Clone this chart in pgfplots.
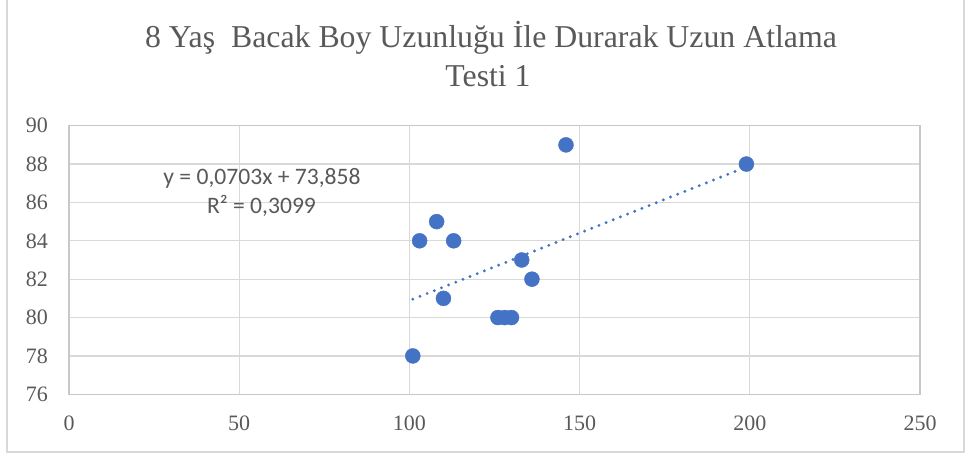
\documentclass[border=0pt]{standalone}
\usepackage{pgfplots}
\pgfplotsset{compat=1.18}
\usepackage{fontspec}
\setmainfont{Liberation Serif}
\newfontfamily\carlito{Carlito}
\definecolor{txt}{HTML}{595959}
\definecolor{gridc}{HTML}{D9D9D9}
\definecolor{axc}{HTML}{C8C8C8}
\definecolor{pt}{HTML}{4472C4}
\begin{document}
\begin{tikzpicture}
\useasboundingbox (0,0) rectangle (968pt,457pt);
\draw[color=gridc, line width=1.3pt] (7pt,457pt) -- (7pt,5pt) -- (964pt,5pt) -- (964pt,457pt);
\begin{axis}[
  at={(69pt,62.7pt)}, anchor=south west,
  width=851pt, height=268.6pt, scale only axis,
  xmin=0, xmax=250, ymin=76, ymax=90,
  xtick={0,50,...,250}, ytick={76,78,...,90},
  grid=major,
  major grid style={color=gridc, line width=1.3pt},
  axis line style={color=axc, line width=1.3pt},
  tick style={draw=none},
  /pgf/number format/assume math mode=true,
  ticklabel style={font=\fontsize{22}{22}\selectfont, text=txt, inner sep=0pt},
  yticklabel style={anchor=east, xshift=-21pt},
  xticklabel style={anchor=north, yshift=-21pt},
  clip=false,
]
\addplot[only marks, mark=*, mark size=7.5pt, mark options={fill=pt, draw=pt}]
coordinates {
(146,89) (108,85) (103,84) (113,84) (133,83) (136,82) (110,81)
(126,80) (128,80) (130,80) (101,78) (199,88)
};
\addplot[color=pt, line width=3.2pt, line cap=round, dash pattern=on 0pt off 7.7pt]
coordinates {(101,80.958) (199,87.848)};
\end{axis}
\node[anchor=base, text=txt, font=\fontsize{31.8}{31.8}\selectfont, inner sep=0pt] at (491pt,409.5pt) {8 Yaş~ Bacak Boy Uzunluğu İle Durarak Uzun Atlama};
\node[anchor=base, text=txt, font=\fontsize{31.8}{31.8}\selectfont, inner sep=0pt] at (488pt,370pt) {Testi 1};
\node[anchor=base, text=txt, font=\carlito\fontsize{23.6}{23.6}\selectfont, inner sep=0pt] at (262pt,272pt) {y = 0,0703x + 73,858};
\node[anchor=base, text=txt, font=\carlito\fontsize{23.6}{23.6}\selectfont, inner sep=0pt] at (261.5pt,243pt) {R² = 0,3099};
\end{tikzpicture}
\end{document}
